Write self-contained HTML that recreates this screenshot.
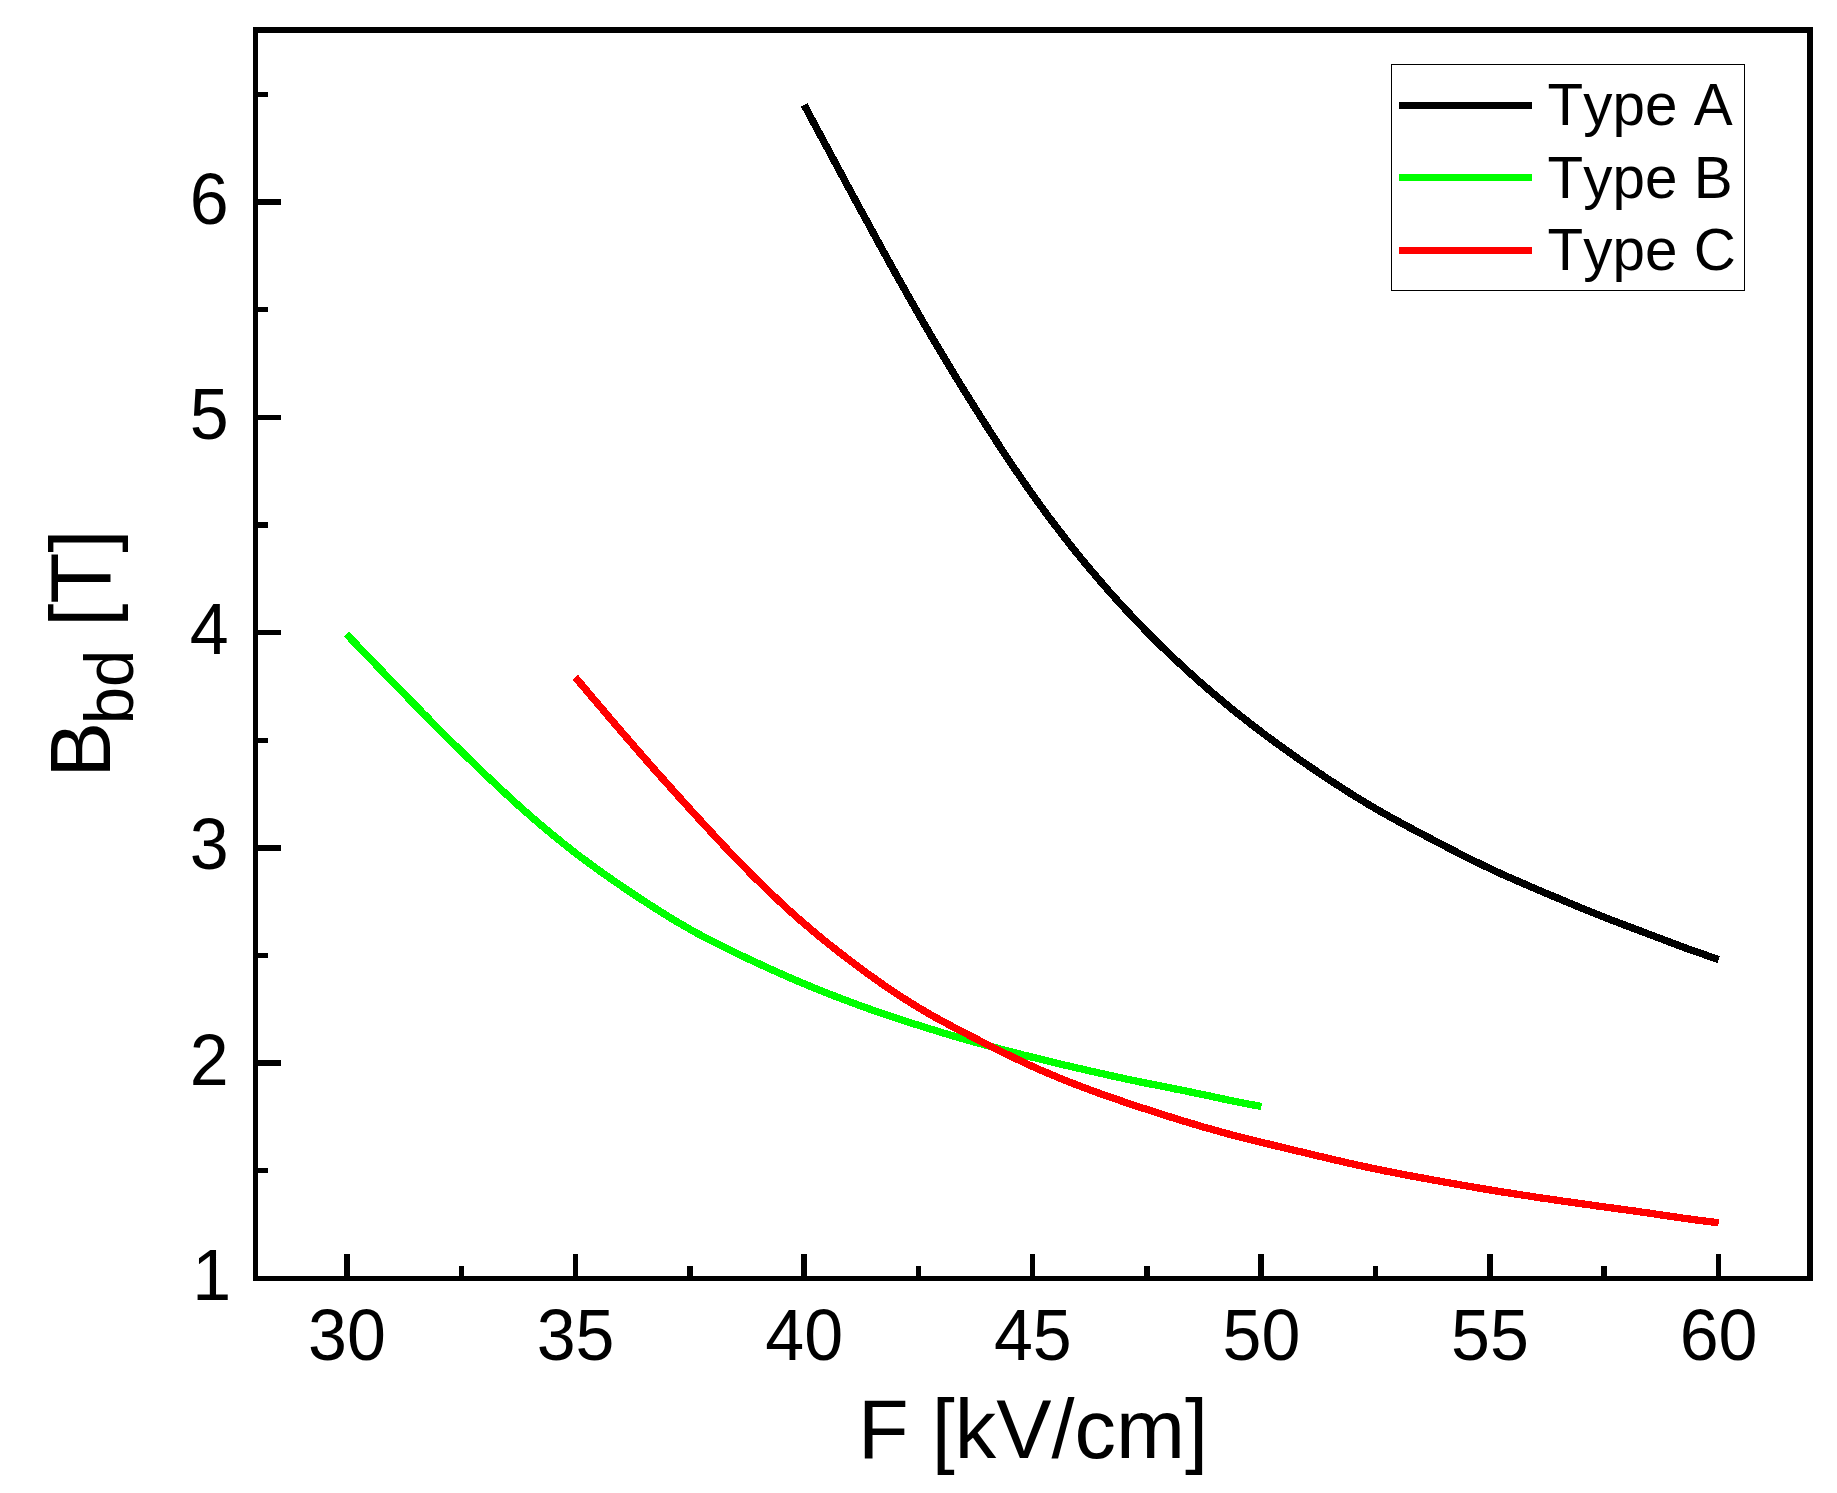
<!DOCTYPE html>
<html lang="en">
<head>
<meta charset="utf-8">
<title>B_bd vs F</title>
<style>
html,body{margin:0;padding:0;background:#ffffff;}
body{width:1837px;height:1493px;overflow:hidden;}
svg{display:block;}
</style>
</head>
<body>
<svg width="1837" height="1493" viewBox="0 0 1837 1493">
<rect x="0" y="0" width="1837" height="1493" fill="#ffffff"/>
<g fill="#000000" shape-rendering="crispEdges">
<rect x="253" y="27" width="5" height="1254"/>
<rect x="1807" y="27" width="6" height="1254"/>
<rect x="253" y="27" width="1560" height="6"/>
<rect x="253" y="1276" width="1560" height="5"/>
<rect x="344" y="1254" width="6" height="23"/>
<rect x="573" y="1254" width="5" height="23"/>
<rect x="801" y="1254" width="6" height="23"/>
<rect x="1030" y="1254" width="5" height="23"/>
<rect x="1258" y="1254" width="6" height="23"/>
<rect x="1487" y="1254" width="6" height="23"/>
<rect x="1716" y="1254" width="5" height="23"/>
<rect x="459" y="1266" width="5" height="11"/>
<rect x="687" y="1266" width="6" height="11"/>
<rect x="916" y="1266" width="5" height="11"/>
<rect x="1144" y="1266" width="6" height="11"/>
<rect x="1373" y="1266" width="5" height="11"/>
<rect x="1601" y="1266" width="6" height="11"/>
<rect x="257" y="199" width="24" height="6"/>
<rect x="257" y="415" width="24" height="5"/>
<rect x="257" y="630" width="24" height="5"/>
<rect x="257" y="845" width="24" height="6"/>
<rect x="257" y="1060" width="24" height="6"/>
<rect x="257" y="92" width="11" height="5"/>
<rect x="257" y="307" width="11" height="5"/>
<rect x="257" y="522" width="11" height="6"/>
<rect x="257" y="738" width="11" height="5"/>
<rect x="257" y="953" width="11" height="5"/>
<rect x="257" y="1168" width="11" height="5"/>
</g>
<g font-family="'Liberation Sans', sans-serif" fill="#000000" style="font-kerning:none">
<text transform="translate(347.00 1360.00) scale(1 1.0407)" font-size="70" text-anchor="middle">30</text>
<text transform="translate(575.60 1360.00) scale(1 1.0407)" font-size="70" text-anchor="middle">35</text>
<text transform="translate(804.20 1360.00) scale(1 1.0407)" font-size="70" text-anchor="middle">40</text>
<text transform="translate(1032.80 1360.00) scale(1 1.0407)" font-size="70" text-anchor="middle">45</text>
<text transform="translate(1261.40 1360.00) scale(1 1.0407)" font-size="70" text-anchor="middle">50</text>
<text transform="translate(1490.00 1360.00) scale(1 1.0407)" font-size="70" text-anchor="middle">55</text>
<text transform="translate(1718.60 1360.00) scale(1 1.0407)" font-size="70" text-anchor="middle">60</text>
<text transform="translate(231.30 1300.00) scale(1 1.0407)" font-size="70" text-anchor="end">1</text>
<text transform="translate(228.60 1084.70) scale(1 1.0407)" font-size="70" text-anchor="end">2</text>
<text transform="translate(228.60 869.40) scale(1 1.0407)" font-size="70" text-anchor="end">3</text>
<text transform="translate(228.60 654.10) scale(1 1.0407)" font-size="70" text-anchor="end">4</text>
<text transform="translate(228.60 438.80) scale(1 1.0407)" font-size="70" text-anchor="end">5</text>
<text transform="translate(228.60 223.50) scale(1 1.0407)" font-size="70" text-anchor="end">6</text>
<text transform="translate(858.10 1457.90) scale(1 1.0150)" font-size="82.9" text-anchor="start">F [kV/cm]</text>
<text transform="translate(110.00 777.60) rotate(-90) scale(1 1.0200)" font-size="83.3">B<tspan font-size="67" dx="-2.26" dy="22.84">bd</tspan><tspan dy="-22.84"> [T]</tspan></text>
<rect x="1391.5" y="64.5" width="353" height="226" fill="#ffffff" stroke="#000000" stroke-width="1" shape-rendering="crispEdges"/>
<rect x="1399" y="102" width="133" height="7" fill="#000000" shape-rendering="crispEdges"/>
<text transform="translate(1547.60 124.90) scale(1 1.0150)" font-size="58.4" text-anchor="start">Type A</text>
<rect x="1399" y="174" width="133" height="7" fill="#00ff00" shape-rendering="crispEdges"/>
<text transform="translate(1547.60 197.60) scale(1 1.0150)" font-size="58.4" text-anchor="start">Type B</text>
<rect x="1399" y="247" width="133" height="7" fill="#ff0000" shape-rendering="crispEdges"/>
<text transform="translate(1547.60 269.90) scale(1 1.0150)" font-size="58.4" text-anchor="start">Type C</text>
</g>
<g fill="none" stroke-width="7.3" stroke-linecap="butt" stroke-linejoin="round" shape-rendering="crispEdges">
<path d="M804.2 105.0 L808.2 112.5 L812.2 120.0 L816.2 127.4 L820.2 134.9 L824.3 142.4 L828.3 149.8 L832.3 157.3 L836.3 164.7 L840.3 172.2 L844.3 179.6 L848.3 187.1 L852.3 194.5 L856.3 201.9 L860.3 209.3 L864.4 216.7 L868.4 224.0 L872.4 231.4 L876.4 238.7 L880.4 246.0 L884.4 253.3 L888.4 260.6 L892.4 267.8 L896.4 275.0 L900.5 282.2 L904.5 289.3 L908.5 296.4 L912.5 303.5 L916.5 310.5 L920.5 317.5 L924.5 324.4 L928.5 331.3 L932.5 338.1 L936.5 344.9 L940.6 351.7 L944.6 358.4 L948.6 365.0 L952.6 371.7 L956.6 378.2 L960.6 384.8 L964.6 391.3 L968.6 397.7 L972.6 404.1 L976.7 410.5 L980.7 416.9 L984.7 423.2 L988.7 429.4 L992.7 435.6 L996.7 441.8 L1000.7 447.9 L1004.7 454.0 L1008.7 460.0 L1012.7 466.0 L1016.8 471.9 L1020.8 477.7 L1024.8 483.5 L1028.8 489.3 L1032.8 494.9 L1036.8 500.5 L1040.8 506.1 L1044.8 511.5 L1048.8 517.0 L1052.9 522.3 L1056.9 527.6 L1060.9 532.8 L1064.9 538.0 L1068.9 543.1 L1072.9 548.2 L1076.9 553.2 L1080.9 558.1 L1084.9 563.0 L1088.9 567.8 L1093.0 572.6 L1097.0 577.3 L1101.0 582.0 L1105.0 586.6 L1109.0 591.2 L1113.0 595.7 L1117.0 600.1 L1121.0 604.5 L1125.0 608.9 L1129.1 613.2 L1133.1 617.5 L1137.1 621.7 L1141.1 625.8 L1145.1 630.0 L1149.1 634.0 L1153.1 638.1 L1157.1 642.1 L1161.1 646.0 L1165.1 649.9 L1169.2 653.7 L1173.2 657.5 L1177.2 661.3 L1181.2 665.0 L1185.2 668.7 L1189.2 672.4 L1193.2 676.0 L1197.2 679.6 L1201.2 683.1 L1205.3 686.6 L1209.3 690.1 L1213.3 693.5 L1217.3 696.9 L1221.3 700.2 L1225.3 703.5 L1229.3 706.8 L1233.3 710.1 L1237.3 713.3 L1241.3 716.5 L1245.4 719.6 L1249.4 722.8 L1253.4 725.9 L1257.4 728.9 L1261.4 732.0 L1265.4 735.0 L1269.4 738.0 L1273.4 740.9 L1277.4 743.9 L1281.5 746.8 L1285.5 749.7 L1289.5 752.5 L1293.5 755.4 L1297.5 758.2 L1301.5 761.0 L1305.5 763.7 L1309.5 766.5 L1313.5 769.2 L1317.5 771.9 L1321.6 774.6 L1325.6 777.3 L1329.6 780.0 L1333.6 782.6 L1337.6 785.2 L1341.6 787.8 L1345.6 790.3 L1349.6 792.9 L1353.6 795.4 L1357.7 797.9 L1361.7 800.3 L1365.7 802.8 L1369.7 805.2 L1373.7 807.5 L1377.7 809.9 L1381.7 812.2 L1385.7 814.4 L1389.7 816.7 L1393.7 818.9 L1397.8 821.1 L1401.8 823.3 L1405.8 825.5 L1409.8 827.6 L1413.8 829.8 L1417.8 831.9 L1421.8 834.0 L1425.8 836.1 L1429.8 838.2 L1433.9 840.3 L1437.9 842.4 L1441.9 844.5 L1445.9 846.6 L1449.9 848.7 L1453.9 850.7 L1457.9 852.8 L1461.9 854.8 L1465.9 856.9 L1469.9 858.9 L1474.0 860.9 L1478.0 862.8 L1482.0 864.8 L1486.0 866.7 L1490.0 868.6 L1494.0 870.5 L1498.0 872.3 L1502.0 874.2 L1506.0 876.0 L1510.1 877.7 L1514.1 879.5 L1518.1 881.3 L1522.1 883.0 L1526.1 884.7 L1530.1 886.5 L1534.1 888.2 L1538.1 889.9 L1542.1 891.6 L1546.1 893.3 L1550.2 895.0 L1554.2 896.7 L1558.2 898.3 L1562.2 900.0 L1566.2 901.7 L1570.2 903.4 L1574.2 905.0 L1578.2 906.7 L1582.2 908.4 L1586.3 910.0 L1590.3 911.6 L1594.3 913.2 L1598.3 914.8 L1602.3 916.4 L1606.3 918.0 L1610.3 919.6 L1614.3 921.1 L1618.3 922.6 L1622.3 924.2 L1626.4 925.7 L1630.4 927.2 L1634.4 928.7 L1638.4 930.2 L1642.4 931.7 L1646.4 933.3 L1650.4 934.8 L1654.4 936.3 L1658.4 937.8 L1662.5 939.3 L1666.5 940.9 L1670.5 942.4 L1674.5 943.9 L1678.5 945.4 L1682.5 946.9 L1686.5 948.4 L1690.5 949.8 L1694.5 951.2 L1698.5 952.6 L1702.6 954.0 L1706.6 955.4 L1710.6 956.8 L1714.6 958.1 L1718.6 959.5" stroke="#000000"/>
<path d="M346.5 634.1 L350.5 638.3 L354.5 642.5 L358.5 646.7 L362.6 650.9 L366.6 655.0 L370.6 659.2 L374.6 663.4 L378.6 667.6 L382.6 671.7 L386.6 675.9 L390.6 680.0 L394.7 684.2 L398.7 688.3 L402.7 692.4 L406.7 696.5 L410.7 700.6 L414.7 704.7 L418.7 708.8 L422.7 712.9 L426.8 716.9 L430.8 721.0 L434.8 725.0 L438.8 729.0 L442.8 733.0 L446.8 737.0 L450.8 741.0 L454.8 745.0 L458.9 748.9 L462.9 752.8 L466.9 756.8 L470.9 760.7 L474.9 764.6 L478.9 768.4 L482.9 772.3 L486.9 776.1 L491.0 779.9 L495.0 783.7 L499.0 787.5 L503.0 791.2 L507.0 794.9 L511.0 798.6 L515.0 802.3 L519.0 805.9 L523.1 809.5 L527.1 813.0 L531.1 816.5 L535.1 820.0 L539.1 823.5 L543.1 826.9 L547.1 830.2 L551.1 833.6 L555.2 836.9 L559.2 840.1 L563.2 843.4 L567.2 846.5 L571.2 849.7 L575.2 852.8 L579.2 855.9 L583.3 858.9 L587.3 861.9 L591.3 864.8 L595.3 867.7 L599.3 870.6 L603.3 873.5 L607.3 876.3 L611.3 879.1 L615.4 881.9 L619.4 884.6 L623.4 887.4 L627.4 890.1 L631.4 892.8 L635.4 895.4 L639.4 898.1 L643.4 900.7 L647.5 903.3 L651.5 905.9 L655.5 908.5 L659.5 911.0 L663.5 913.5 L667.5 916.0 L671.5 918.5 L675.5 920.9 L679.6 923.3 L683.6 925.6 L687.6 927.9 L691.6 930.2 L695.6 932.4 L699.6 934.6 L703.6 936.7 L707.6 938.8 L711.7 940.9 L715.7 943.0 L719.7 945.0 L723.7 947.0 L727.7 949.0 L731.7 950.9 L735.7 952.9 L739.7 954.8 L743.8 956.7 L747.8 958.6 L751.8 960.5 L755.8 962.3 L759.8 964.2 L763.8 966.0 L767.8 967.9 L771.8 969.7 L775.9 971.5 L779.9 973.3 L783.9 975.1 L787.9 976.8 L791.9 978.6 L795.9 980.3 L799.9 982.0 L804.0 983.7 L808.0 985.4 L812.0 987.0 L816.0 988.7 L820.0 990.3 L824.0 991.9 L828.0 993.5 L832.0 995.1 L836.1 996.6 L840.1 998.2 L844.1 999.7 L848.1 1001.2 L852.1 1002.7 L856.1 1004.2 L860.1 1005.7 L864.1 1007.1 L868.2 1008.5 L872.2 1010.0 L876.2 1011.4 L880.2 1012.7 L884.2 1014.1 L888.2 1015.5 L892.2 1016.8 L896.2 1018.1 L900.3 1019.5 L904.3 1020.8 L908.3 1022.1 L912.3 1023.3 L916.3 1024.6 L920.3 1025.9 L924.3 1027.1 L928.3 1028.4 L932.4 1029.6 L936.4 1030.9 L940.4 1032.1 L944.4 1033.3 L948.4 1034.5 L952.4 1035.7 L956.4 1036.8 L960.4 1038.0 L964.5 1039.2 L968.5 1040.3 L972.5 1041.4 L976.5 1042.6 L980.5 1043.7 L984.5 1044.8 L988.5 1045.9 L992.5 1046.9 L996.6 1048.0 L1000.6 1049.1 L1004.6 1050.1 L1008.6 1051.2 L1012.6 1052.2 L1016.6 1053.2 L1020.6 1054.3 L1024.6 1055.3 L1028.7 1056.3 L1032.7 1057.3 L1036.7 1058.3 L1040.7 1059.3 L1044.7 1060.3 L1048.7 1061.2 L1052.7 1062.2 L1056.8 1063.2 L1060.8 1064.1 L1064.8 1065.1 L1068.8 1066.0 L1072.8 1067.0 L1076.8 1067.9 L1080.8 1068.8 L1084.8 1069.8 L1088.9 1070.7 L1092.9 1071.6 L1096.9 1072.5 L1100.9 1073.4 L1104.9 1074.3 L1108.9 1075.2 L1112.9 1076.1 L1116.9 1077.0 L1121.0 1077.8 L1125.0 1078.7 L1129.0 1079.6 L1133.0 1080.4 L1137.0 1081.2 L1141.0 1082.1 L1145.0 1082.9 L1149.0 1083.7 L1153.1 1084.5 L1157.1 1085.3 L1161.1 1086.1 L1165.1 1086.9 L1169.1 1087.7 L1173.1 1088.5 L1177.1 1089.3 L1181.1 1090.1 L1185.2 1090.9 L1189.2 1091.7 L1193.2 1092.6 L1197.2 1093.4 L1201.2 1094.2 L1205.2 1095.1 L1209.2 1095.9 L1213.2 1096.8 L1217.3 1097.7 L1221.3 1098.5 L1225.3 1099.4 L1229.3 1100.3 L1233.3 1101.1 L1237.3 1101.9 L1241.3 1102.7 L1245.3 1103.5 L1249.4 1104.2 L1253.4 1105.0 L1257.4 1105.7 L1261.4 1106.5" stroke="#00ff00"/>
<path d="M575.3 677.2 L579.3 682.0 L583.3 686.7 L587.3 691.5 L591.3 696.2 L595.4 701.0 L599.4 705.7 L603.4 710.4 L607.4 715.1 L611.4 719.9 L615.4 724.6 L619.4 729.2 L623.4 733.9 L627.5 738.6 L631.5 743.2 L635.5 747.8 L639.5 752.4 L643.5 757.0 L647.5 761.6 L651.5 766.1 L655.5 770.7 L659.5 775.2 L663.6 779.7 L667.6 784.2 L671.6 788.6 L675.6 793.1 L679.6 797.6 L683.6 802.0 L687.6 806.4 L691.6 810.9 L695.6 815.3 L699.7 819.7 L703.7 824.0 L707.7 828.4 L711.7 832.7 L715.7 837.1 L719.7 841.4 L723.7 845.6 L727.7 849.9 L731.8 854.1 L735.8 858.3 L739.8 862.4 L743.8 866.5 L747.8 870.6 L751.8 874.7 L755.8 878.7 L759.8 882.6 L763.8 886.5 L767.9 890.4 L771.9 894.2 L775.9 898.0 L779.9 901.8 L783.9 905.5 L787.9 909.2 L791.9 912.8 L795.9 916.4 L799.9 919.9 L804.0 923.4 L808.0 926.8 L812.0 930.2 L816.0 933.6 L820.0 936.9 L824.0 940.2 L828.0 943.4 L832.0 946.6 L836.1 949.8 L840.1 952.9 L844.1 956.0 L848.1 959.1 L852.1 962.1 L856.1 965.1 L860.1 968.1 L864.1 971.1 L868.1 974.0 L872.2 976.9 L876.2 979.7 L880.2 982.6 L884.2 985.4 L888.2 988.1 L892.2 990.8 L896.2 993.5 L900.2 996.2 L904.2 998.7 L908.3 1001.3 L912.3 1003.8 L916.3 1006.3 L920.3 1008.7 L924.3 1011.0 L928.3 1013.4 L932.3 1015.6 L936.3 1017.9 L940.4 1020.1 L944.4 1022.3 L948.4 1024.4 L952.4 1026.6 L956.4 1028.7 L960.4 1030.8 L964.4 1032.8 L968.4 1034.9 L972.4 1036.9 L976.5 1039.0 L980.5 1041.1 L984.5 1043.1 L988.5 1045.1 L992.5 1047.2 L996.5 1049.2 L1000.5 1051.2 L1004.5 1053.2 L1008.6 1055.1 L1012.6 1057.1 L1016.6 1059.0 L1020.6 1060.9 L1024.6 1062.8 L1028.6 1064.7 L1032.6 1066.5 L1036.6 1068.3 L1040.6 1070.1 L1044.7 1071.8 L1048.7 1073.5 L1052.7 1075.2 L1056.7 1076.9 L1060.7 1078.6 L1064.7 1080.2 L1068.7 1081.8 L1072.7 1083.3 L1076.7 1084.9 L1080.8 1086.4 L1084.8 1087.9 L1088.8 1089.4 L1092.8 1090.9 L1096.8 1092.4 L1100.8 1093.8 L1104.8 1095.2 L1108.8 1096.7 L1112.9 1098.0 L1116.9 1099.4 L1120.9 1100.8 L1124.9 1102.2 L1128.9 1103.5 L1132.9 1104.9 L1136.9 1106.2 L1140.9 1107.5 L1144.9 1108.8 L1149.0 1110.1 L1153.0 1111.4 L1157.0 1112.7 L1161.0 1114.0 L1165.0 1115.3 L1169.0 1116.5 L1173.0 1117.8 L1177.0 1119.0 L1181.0 1120.3 L1185.1 1121.5 L1189.1 1122.7 L1193.1 1123.9 L1197.1 1125.1 L1201.1 1126.3 L1205.1 1127.5 L1209.1 1128.6 L1213.1 1129.7 L1217.2 1130.9 L1221.2 1132.0 L1225.2 1133.1 L1229.2 1134.2 L1233.2 1135.2 L1237.2 1136.3 L1241.2 1137.3 L1245.2 1138.3 L1249.2 1139.3 L1253.3 1140.3 L1257.3 1141.3 L1261.3 1142.3 L1265.3 1143.3 L1269.3 1144.2 L1273.3 1145.2 L1277.3 1146.2 L1281.3 1147.1 L1285.3 1148.1 L1289.4 1149.0 L1293.4 1150.0 L1297.4 1151.0 L1301.4 1151.9 L1305.4 1152.9 L1309.4 1153.9 L1313.4 1154.8 L1317.4 1155.8 L1321.5 1156.7 L1325.5 1157.7 L1329.5 1158.6 L1333.5 1159.6 L1337.5 1160.5 L1341.5 1161.4 L1345.5 1162.4 L1349.5 1163.3 L1353.5 1164.2 L1357.6 1165.1 L1361.6 1165.9 L1365.6 1166.8 L1369.6 1167.7 L1373.6 1168.5 L1377.6 1169.4 L1381.6 1170.2 L1385.6 1171.0 L1389.7 1171.8 L1393.7 1172.6 L1397.7 1173.4 L1401.7 1174.1 L1405.7 1174.9 L1409.7 1175.7 L1413.7 1176.4 L1417.7 1177.2 L1421.7 1177.9 L1425.8 1178.6 L1429.8 1179.4 L1433.8 1180.1 L1437.8 1180.8 L1441.8 1181.5 L1445.8 1182.3 L1449.8 1183.0 L1453.8 1183.7 L1457.8 1184.4 L1461.9 1185.1 L1465.9 1185.8 L1469.9 1186.5 L1473.9 1187.2 L1477.9 1187.9 L1481.9 1188.6 L1485.9 1189.2 L1489.9 1189.9 L1494.0 1190.6 L1498.0 1191.2 L1502.0 1191.9 L1506.0 1192.5 L1510.0 1193.1 L1514.0 1193.8 L1518.0 1194.4 L1522.0 1195.0 L1526.0 1195.6 L1530.1 1196.2 L1534.1 1196.9 L1538.1 1197.5 L1542.1 1198.1 L1546.1 1198.6 L1550.1 1199.2 L1554.1 1199.8 L1558.1 1200.4 L1562.1 1201.0 L1566.2 1201.6 L1570.2 1202.1 L1574.2 1202.7 L1578.2 1203.3 L1582.2 1203.8 L1586.2 1204.4 L1590.2 1204.9 L1594.2 1205.5 L1598.3 1206.1 L1602.3 1206.6 L1606.3 1207.2 L1610.3 1207.7 L1614.3 1208.3 L1618.3 1208.8 L1622.3 1209.4 L1626.3 1209.9 L1630.3 1210.5 L1634.4 1211.0 L1638.4 1211.6 L1642.4 1212.2 L1646.4 1212.7 L1650.4 1213.3 L1654.4 1213.9 L1658.4 1214.5 L1662.4 1215.1 L1666.4 1215.7 L1670.5 1216.3 L1674.5 1216.9 L1678.5 1217.5 L1682.5 1218.1 L1686.5 1218.6 L1690.5 1219.2 L1694.5 1219.7 L1698.5 1220.3 L1702.6 1220.8 L1706.6 1221.3 L1710.6 1221.8 L1714.6 1222.3 L1718.6 1222.8" stroke="#ff0000"/>
</g>
</svg>
</body>
</html>
